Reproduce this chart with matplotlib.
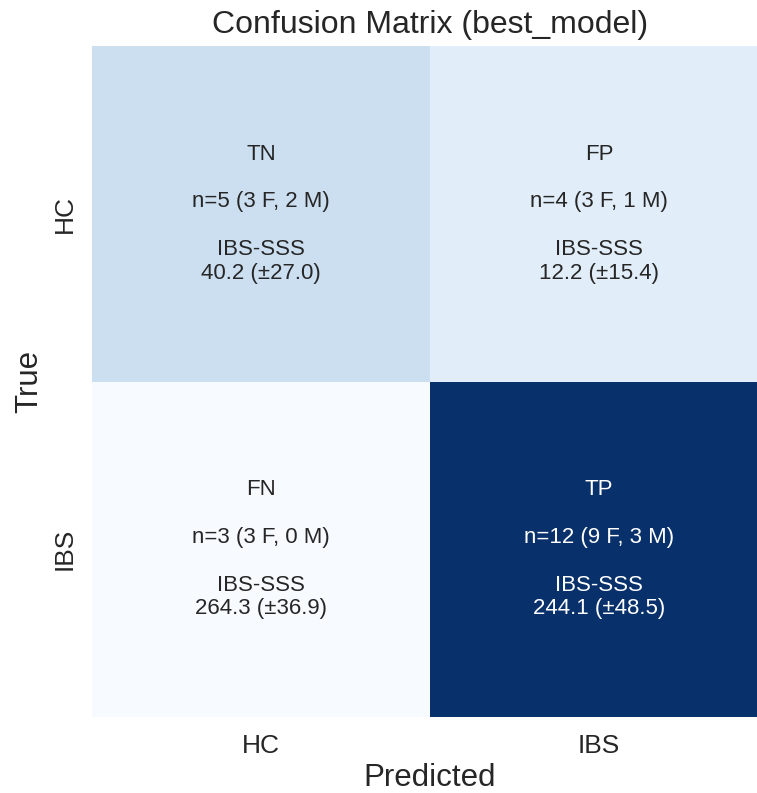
import numpy as np
import matplotlib
matplotlib.use("Agg")
import matplotlib.pyplot as plt
import seaborn as sns

# Confusion matrix counts (rows: true class, columns: predicted class)
class_names = ["HC", "IBS"]
counts = [[5, 4],
          [3, 12]]
cell_tags = [["TN", "FP"],
             ["FN", "TP"]]
female_counts = [[3, 3],
                 [3, 9]]
male_counts = [[2, 1],
               [0, 3]]
sss_mean = [[40.2, 12.2],
            [264.3, 244.1]]
sss_std = [[27.0, 15.4],
           [36.9, 48.5]]

sns.set_style("white")
plt.rcParams["font.family"] = ["Liberation Sans", "DejaVu Sans"]
text_color = "#262626"

cm = np.array(counts)
annot = np.empty(cm.shape, dtype=object)
for i in range(cm.shape[0]):
    for j in range(cm.shape[1]):
        annot[i, j] = (f"{cell_tags[i][j]}\n\n"
                       f"n={counts[i][j]} ({female_counts[i][j]} F, {male_counts[i][j]} M)\n\n"
                       f"IBS-SSS\n{sss_mean[i][j]:.1f} (±{sss_std[i][j]:.1f})")

fig = plt.figure(figsize=(7.57, 7.93), dpi=100)
# heatmap area runs slightly past the right edge of the canvas
ax = fig.add_axes([92 / 757, 76 / 793, 676 / 757, 671 / 793])

sns.heatmap(cm, annot=annot, fmt="", cmap="Blues", cbar=False, ax=ax,
            xticklabels=class_names, yticklabels=class_names,
            annot_kws={"fontsize": 16, "linespacing": 1.18})

ax.set_title("Confusion Matrix (best_model)", fontsize=23, color=text_color, pad=9.5)
ax.set_xlabel("Predicted", fontsize=22.5, color=text_color, labelpad=3.5)
ax.set_ylabel("True", fontsize=22.5, color=text_color, labelpad=6)
ax.tick_params(axis="both", length=0, labelsize=19, colors=text_color)
ax.tick_params(axis="x", pad=12)
ax.tick_params(axis="y", pad=11)

fig.savefig("out.png", dpi=100)
